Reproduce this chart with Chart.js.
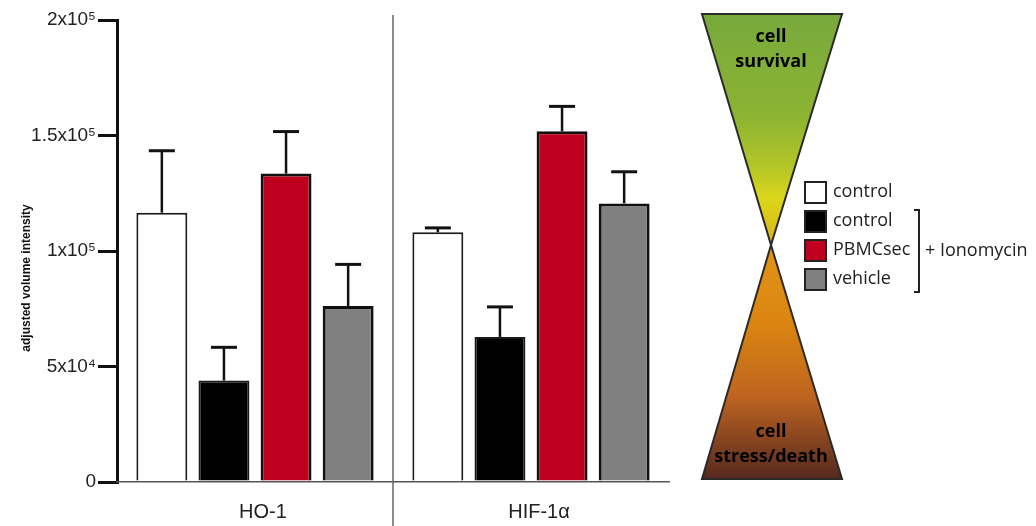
<!DOCTYPE html>
<html>
<head>
<meta charset="utf-8">
<script src="https://cdn.jsdelivr.net/npm/chart.js@4"></script>
<style>
  body { margin: 0; background: #fff; }
</style>
</head>
<body>
<canvas id="myChart" width="1036" height="526"></canvas>
<script>
const categories = ["HO-1", "HIF-1α"];
const seriesNames = ["control", "control", "PBMCsec", "vehicle"];
const controlVals = [116600, 108100];
const ionoControlVals = [43900, 62800];
const pbmcVals = [133500, 151800];
const vehicleVals = [76200, 120600];
const controlErr = [26800, 1900];
const ionoControlErr = [14400, 13000];
const pbmcErr = [18200, 10800];
const vehicleErr = [18000, 13700];
const yTickLabels = ["0", "5x10⁴", "1x10⁵", "1.5x10⁵", "2x10⁵"];

const fontSans = "'Liberation Sans', Arial, sans-serif";
const fontLegend = "'Open Sans', sans-serif";

const data = {
  labels: categories,
  datasets: [
    { label: seriesNames[0], data: controlVals, err: controlErr, backgroundColor: "#ffffff", borderColor: "#1a1a1a", borderWidth: 2 },
    { label: seriesNames[1], data: ionoControlVals, err: ionoControlErr, backgroundColor: "#000000", borderColor: "#1a1a1a", borderWidth: 2 },
    { label: seriesNames[2], data: pbmcVals, err: pbmcErr, backgroundColor: "#c0001f", borderColor: "#111111", borderWidth: 3 },
    { label: seriesNames[3], data: vehicleVals, err: vehicleErr, backgroundColor: "#808080", borderColor: "#111111", borderWidth: 3 },
  ],
};

// error bars, separator, axis title, hourglass and legend
const extras = {
  id: "extras",
  afterDatasetsDraw(chart) {
    const ctx = chart.ctx;
    const y = chart.scales.y;
    const x = chart.scales.x;
    ctx.save();
    ctx.strokeStyle = "#111";
    chart.data.datasets.forEach((ds, i) => {
      chart.getDatasetMeta(i).data.forEach((bar, j) => {
        const top = y.getPixelForValue(ds.data[j] + ds.err[j]);
        ctx.lineWidth = 2.5;
        ctx.beginPath();
        ctx.moveTo(bar.x, bar.y);
        ctx.lineTo(bar.x, top);
        ctx.stroke();
        ctx.lineWidth = 3;
        ctx.beginPath();
        ctx.moveTo(bar.x - 13, top);
        ctx.lineTo(bar.x + 13, top);
        ctx.stroke();
      });
    });

    // separator between groups
    const sepX = (x.getPixelForValue(0) + x.getPixelForValue(1)) / 2;
    ctx.strokeStyle = "#666";
    ctx.lineWidth = 1.5;
    ctx.beginPath();
    ctx.moveTo(sepX, 15);
    ctx.lineTo(sepX, 526);
    ctx.stroke();

    // y axis title
    ctx.save();
    ctx.translate(27, 278);
    ctx.rotate(-Math.PI / 2);
    ctx.font = "bold 12px " + fontSans;
    ctx.fillStyle = "#111";
    ctx.textAlign = "center";
    ctx.textBaseline = "middle";
    ctx.fillText("adjusted volume intensity", 0, 0);
    ctx.restore();

    // hourglass
    const L = 702, R = 842, cx = 771, top = 14, mid = 245, bot = 479;
    let g = ctx.createLinearGradient(0, top, 0, mid);
    g.addColorStop(0, "#77a93c");
    g.addColorStop(0.45, "#8cb432");
    g.addColorStop(0.68, "#b8c826");
    g.addColorStop(0.8, "#dcd619");
    g.addColorStop(1, "#d8b418");
    ctx.fillStyle = g;
    ctx.beginPath();
    ctx.moveTo(L, top);
    ctx.lineTo(R, top);
    ctx.lineTo(cx, mid);
    ctx.closePath();
    ctx.fill();
    ctx.strokeStyle = "#2a2a2a";
    ctx.lineWidth = 2;
    ctx.stroke();

    g = ctx.createLinearGradient(0, mid, 0, bot);
    g.addColorStop(0, "#e39418");
    g.addColorStop(0.35, "#d98410");
    g.addColorStop(0.65, "#bd6320");
    g.addColorStop(1, "#55291f");
    ctx.fillStyle = g;
    ctx.beginPath();
    ctx.moveTo(cx, mid);
    ctx.lineTo(R, bot);
    ctx.lineTo(L, bot);
    ctx.closePath();
    ctx.fill();
    ctx.stroke();

    ctx.fillStyle = "#000";
    ctx.font = "bold 18px " + fontLegend;
    ctx.textAlign = "center";
    ctx.textBaseline = "middle";
    ctx.fillText("cell", cx, 37);
    ctx.fillText("survival", cx, 62);
    ctx.fillText("cell", cx, 432);
    ctx.fillText("stress/death", cx, 457);

    // legend
    ctx.font = "18px " + fontLegend;
    ctx.textAlign = "left";
    chart.data.datasets.forEach((ds, i) => {
      const rowY = 192 + i * 29;
      ctx.fillStyle = ds.backgroundColor;
      ctx.fillRect(805, rowY - 10, 21, 21);
      ctx.strokeStyle = "#222";
      ctx.lineWidth = 2;
      ctx.strokeRect(805, rowY - 10, 21, 21);
      ctx.fillStyle = "#222";
      ctx.fillText(ds.label, 833, rowY);
    });
    ctx.strokeStyle = "#222";
    ctx.lineWidth = 2;
    ctx.beginPath();
    ctx.moveTo(914, 210);
    ctx.lineTo(919, 210);
    ctx.lineTo(919, 292);
    ctx.lineTo(914, 292);
    ctx.stroke();
    ctx.fillText("+ Ionomycin", 925, 251);
    ctx.restore();
  },
};

const config = {
  type: "bar",
  data: data,
  options: {
    responsive: false,
    devicePixelRatio: 1,
    animation: false,
    layout: { padding: { top: 20, right: 367, bottom: 0, left: 0 } },
    plugins: { legend: { display: false }, tooltip: { enabled: false } },
    datasets: { bar: { categoryPercentage: 0.9, barPercentage: 0.82 } },
    scales: {
      y: {
        min: 0,
        max: 200000,
        ticks: {
          stepSize: 50000,
          padding: 2,
          color: "#222",
          font: { family: fontSans, size: 19 },
          callback: (v, i) => yTickLabels[i],
        },
        grid: { drawOnChartArea: false, tickLength: 19, lineWidth: 3, color: "#111" },
        border: { color: "#111", width: 3 },
        afterFit: (s) => { s.width = 117; },
      },
      x: {
        ticks: {
          padding: 18,
          labelOffset: 8,
          color: "#222",
          font: { family: fontSans, size: 20 },
        },
        grid: { drawOnChartArea: false, drawTicks: false },
        border: { color: "#555", width: 1.5 },
        afterFit: (s) => { s.height = 44; },
      },
    },
  },
  plugins: [extras],
};

const myChart = new Chart(document.getElementById("myChart"), config);
</script>
</body>
</html>
